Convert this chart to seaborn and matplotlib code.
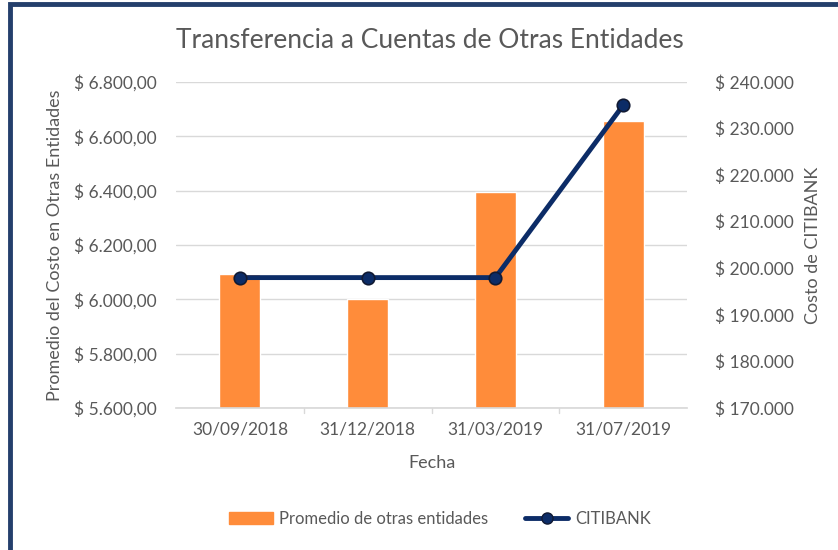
import matplotlib
matplotlib.use("Agg")
import matplotlib.pyplot as plt
import seaborn as sns
import pandas as pd
from matplotlib.patches import Rectangle
from matplotlib.ticker import FuncFormatter
from matplotlib.lines import Line2D
from matplotlib.patches import Patch

fechas = ["30/09/2018", "31/12/2018", "31/03/2019", "31/07/2019"]
promedio_otras = [6092, 6000, 6395, 6655]
citibank = [198000, 198000, 198000, 235000]

sns.set_theme(style="white")
plt.rcParams['font.family'] = ['Lato', 'DejaVu Sans']

TXT = "#595959"
ORANGE = "#FF8C3A"
NAVY = "#0C2C67"

fig = plt.figure(figsize=(8.38, 5.5), dpi=100)
ax = fig.add_axes([176/838, 1-408/550, (687-176)/838, (408-82)/550])

df = pd.DataFrame({"Fecha": fechas, "Promedio": promedio_otras, "CITI": citibank})
sns.barplot(data=df, x="Fecha", y="Promedio", color=ORANGE, width=0.32,
            saturation=1, ax=ax)
ax.set_ylim(5600, 6800)
ax.set_yticks([5600, 5800, 6000, 6200, 6400, 6600, 6800])

def fmt_left(v, p):
    s = f"{v:,.2f}".replace(",", "X").replace(".", ",").replace("X", ".")
    return f"$ {s}"

def fmt_right(v, p):
    s = f"{int(v):,}".replace(",", ".")
    return f"$ {s}"

ax.yaxis.set_major_formatter(FuncFormatter(fmt_left))
ax.grid(axis="y", color="#D9D9D9", linewidth=1)
ax.set_axisbelow(True)
for s in ["top", "right", "left"]:
    ax.spines[s].set_visible(False)
ax.spines["bottom"].set_color("#D9D9D9")
ax.tick_params(axis="y", length=0, labelsize=12.5, labelcolor=TXT, pad=14)
ax.tick_params(axis="x", length=0, labelsize=12.5, labelcolor=TXT, pad=10)
ax.set_xlabel("Fecha", fontsize=13, color=TXT, labelpad=12)
ax.set_ylabel("Promedio del Costo en Otras Entidades", fontsize=13, color=TXT, labelpad=8)
ax.set_xlim(-0.5, 3.5)
for x in [0.5, 1.5, 2.5]:
    ax.plot([x, x], [5600, 5600 - 18], color="#D9D9D9", lw=1, clip_on=False,
            transform=ax.transData)

ax2 = ax.twinx()
sns.lineplot(x=list(range(len(fechas))), y=citibank, ax=ax2, color=NAVY, lw=3.5,
             marker="o", markersize=9, markeredgecolor="#111a33", markeredgewidth=1.2)
ax2.set_ylim(170000, 240000)
ax2.set_yticks(range(170000, 240001, 10000))
ax2.yaxis.set_major_formatter(FuncFormatter(fmt_right))
ax2.tick_params(axis="y", length=0, labelsize=12.5, labelcolor=TXT, pad=20)
ax2.set_ylabel("Costo de CITIBANK", fontsize=13, color=TXT, labelpad=8)
for s in ax2.spines.values():
    s.set_visible(False)
ax2.grid(False)

fig.text(430/838, 1-40/550, "Transferencia a Cuentas de Otras Entidades",
         ha="center", va="center", fontsize=19, color=TXT)

handles = [Patch(facecolor=ORANGE, edgecolor=ORANGE),
           Line2D([0], [0], color=NAVY, lw=3.5, marker="o", markersize=8,
                  markeredgecolor="#111a33")]
fig.legend(handles, ["Promedio de otras entidades", "CITIBANK"],
           loc="center", bbox_to_anchor=(440/838, 1-519/550), ncol=2, frameon=False,
           fontsize=12, labelcolor=TXT, handlelength=2.6, columnspacing=2.2,
           handletextpad=0.4)

fig.patches.append(Rectangle((10/838, -0.01), 1.0, 1-4/550 + 0.01,
                             transform=fig.transFigure, fill=False,
                             edgecolor="#243F6C", linewidth=3.5, zorder=10))

fig.savefig("out.png", dpi=100)
